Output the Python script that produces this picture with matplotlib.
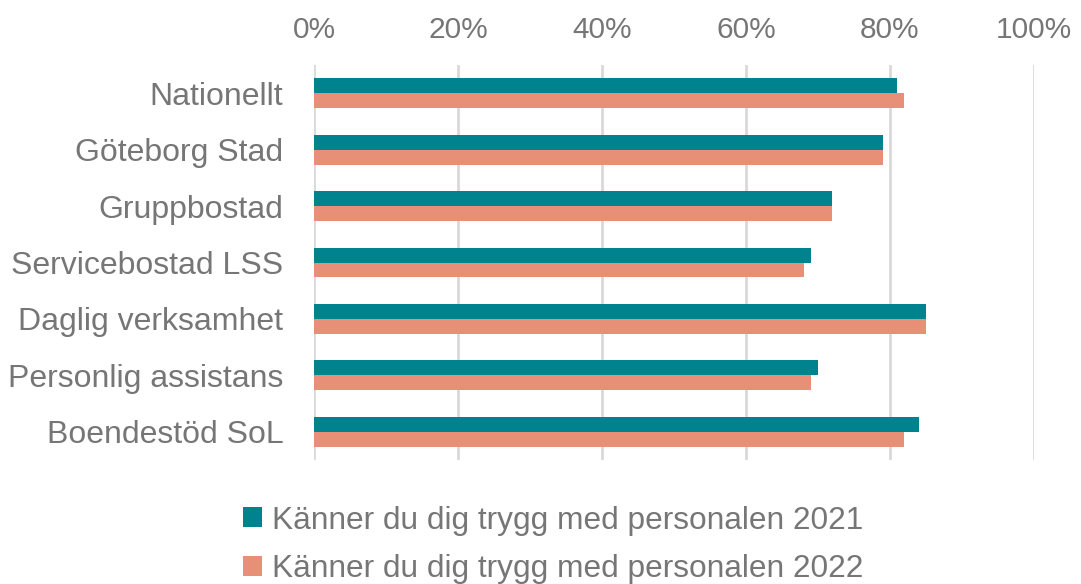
import numpy as np
import matplotlib.pyplot as plt
from matplotlib.ticker import PercentFormatter

plt.rcParams['font.family'] = ['Liberation Sans', 'DejaVu Sans']

categories = ['Nationellt', 'Göteborg Stad', 'Gruppbostad', 'Servicebostad LSS',
              'Daglig verksamhet', 'Personlig assistans', 'Boendestöd SoL']
v2021 = [81, 79, 72, 69, 85, 70, 84]
v2022 = [82, 79, 72, 68, 85, 69, 82]
labels = ['Känner du dig trygg med personalen 2021',
          'Känner du dig trygg med personalen 2022']

teal = '#00838F'
salmon = '#E88F78'
grey = '#767676'

fig = plt.figure(figsize=(10.81, 5.84), dpi=100)
ax = fig.add_axes([314/1081, 1 - 460/584, 720/1081, 395/584])

y = np.arange(len(categories))
h = 0.265
b1 = ax.barh(y - h/2, v2021, height=h, color=teal, label=labels[0])
b2 = ax.barh(y + h/2, v2022, height=h, color=salmon, label=labels[1])

ax.set_xlim(0, 100)
ax.set_ylim(len(categories) - 0.5, -0.5)
ax.set_yticks(y)
ax.set_yticklabels(categories, fontsize=23, color=grey)
ax.set_xticks(np.arange(0, 101, 20))
ax.xaxis.set_major_formatter(PercentFormatter(decimals=0))
ax.xaxis.tick_top()
ax.tick_params(axis='x', labelsize=21.5, labelcolor=grey, length=0, pad=15)
ax.tick_params(axis='y', length=0, pad=22)
ax.grid(axis='x', color='#D9D9D9', lw=2)
ax.set_axisbelow(True)
for s in ax.spines.values():
    s.set_visible(False)

fig.legend(handles=[b1, b2], loc='center', bbox_to_anchor=(553/1081, 1 - 545/584),
           ncol=1, frameon=False, fontsize=22.8, labelcolor=grey,
           handlelength=0.6, handleheight=0.6, handletextpad=0.3, labelspacing=0.6)

fig.savefig('out.png', dpi=100)
